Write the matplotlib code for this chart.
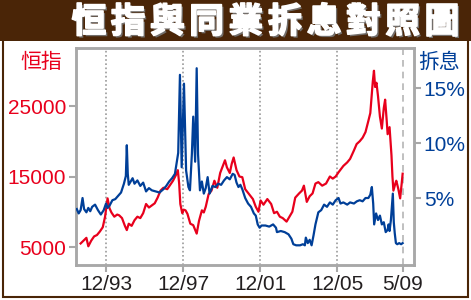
import matplotlib
matplotlib.use("Agg")
import matplotlib.pyplot as plt
import matplotlib.patheffects as pe
from matplotlib.patches import Rectangle

# data (decimal years)
hsi_t = [1992.6, 1992.75, 1992.9, 1993.0, 1993.15, 1993.3, 1993.45, 1993.6, 1993.75, 1993.87,
         1994.0, 1994.1, 1994.2, 1994.35, 1994.5, 1994.6, 1994.75, 1994.9, 1995.0, 1995.1,
         1995.25, 1995.4, 1995.55, 1995.7, 1995.85, 1996.0, 1996.15, 1996.3, 1996.45, 1996.6,
         1996.75, 1996.9, 1997.1, 1997.25, 1997.4, 1997.55, 1997.65, 1997.72, 1997.78, 1997.88,
         1997.95, 1998.05, 1998.15, 1998.3, 1998.45, 1998.63, 1998.75, 1998.9, 1999.0, 1999.1,
         1999.25, 1999.4, 1999.55, 1999.7, 1999.85, 2000.1, 2000.2, 2000.35, 2000.45, 2000.55,
         2000.7, 2000.85, 2001.0, 2001.15, 2001.35, 2001.55, 2001.7, 2001.84, 2001.95, 2002.1,
         2002.3, 2002.5, 2002.65, 2002.8, 2002.95, 2003.1, 2003.3, 2003.45, 2003.6, 2003.75,
         2003.95, 2004.1, 2004.2, 2004.35, 2004.5, 2004.65, 2004.8, 2004.95, 2005.15, 2005.35,
         2005.55, 2005.7, 2005.85, 2006.0, 2006.25, 2006.45, 2006.6, 2006.8, 2006.94, 2007.1,
         2007.25, 2007.4, 2007.55, 2007.65, 2007.78, 2007.84, 2007.9, 2007.97, 2008.05, 2008.15,
         2008.25, 2008.35, 2008.42, 2008.5, 2008.55, 2008.65, 2008.75, 2008.8, 2008.85, 2008.95,
         2009.0, 2009.1, 2009.2, 2009.28, 2009.33]
hsi = [5500, 5900, 6300, 5100, 5900, 6500, 6700, 7200, 7800, 9300,
       11900, 10500, 9900, 9300, 9600, 9500, 9100, 8000, 7400, 8300,
       8000, 8800, 9300, 9100, 9800, 11100, 10600, 10900, 11200, 12000,
       13000, 13400, 13200, 13800, 14400, 15200, 15900, 14000, 11100, 9800,
       10300, 10200, 9700, 8300, 8100, 6900, 8700, 10200, 9900, 10700,
       12500, 13000, 14400, 13400, 15500, 17300, 16300, 15500, 16800, 17700,
       15900, 15000, 14900, 13200, 12500, 11800, 10700, 10000, 11600, 11000,
       11800, 11100, 9800, 10000, 9300, 9100, 8600, 9300, 10000, 12000,
       12600, 13000, 13700, 11400, 12200, 12600, 14000, 14200, 13700, 14000,
       15000, 14700, 15000, 15600, 16500, 17000, 17500, 18700, 19600, 20000,
       20500, 21300, 22900, 24000, 28500, 30000, 27700, 28300, 26400, 23500,
       21800, 24700, 25900, 23000, 21000, 22000, 18000, 15000, 13000, 14000,
       14400, 13300, 11900, 14000, 15400]

hibor_t = [1992.4, 1992.5, 1992.6, 1992.7, 1992.78, 1992.9, 1993.0, 1993.1, 1993.2, 1993.35,
           1993.5, 1993.65, 1993.8, 1993.92, 1994.0, 1994.1, 1994.25, 1994.4, 1994.55, 1994.7,
           1994.85, 1994.95, 1995.0, 1995.05, 1995.1, 1995.2, 1995.3, 1995.4, 1995.55, 1995.7,
           1995.85, 1996.0, 1996.15, 1996.3, 1996.5, 1996.7, 1996.9, 1997.05, 1997.2, 1997.35,
           1997.5, 1997.67, 1997.76, 1997.85, 1997.97, 1998.08, 1998.2, 1998.28, 1998.38, 1998.45,
           1998.55, 1998.63, 1998.7, 1998.8, 1998.9, 1999.0, 1999.1, 1999.2, 1999.3, 1999.45,
           1999.6, 1999.75, 1999.9, 2000.05, 2000.2, 2000.35, 2000.5, 2000.6, 2000.7, 2000.8,
           2000.9, 2001.0, 2001.15, 2001.3, 2001.45, 2001.6, 2001.7, 2001.8, 2001.9, 2002.0,
           2002.2, 2002.4, 2002.6, 2002.75, 2002.8, 2003.0, 2003.2, 2003.4, 2003.55, 2003.65,
           2003.8, 2004.0, 2004.15, 2004.25, 2004.3, 2004.4, 2004.5, 2004.6, 2004.7, 2004.8,
           2004.95, 2005.1, 2005.25, 2005.4, 2005.55, 2005.7, 2005.85, 2006.0, 2006.1, 2006.25,
           2006.45, 2006.6, 2006.8, 2006.95, 2007.1, 2007.25, 2007.4, 2007.55, 2007.65, 2007.73,
           2007.8, 2007.85, 2007.95, 2008.05, 2008.15, 2008.25, 2008.35, 2008.45, 2008.55, 2008.6,
           2008.65, 2008.72, 2008.78, 2008.82, 2008.87, 2008.92, 2008.98, 2009.05, 2009.15, 2009.25,
           2009.33]
hibor = [4.0, 3.6, 3.9, 5.0, 4.0, 3.7, 4.1, 3.8, 4.2, 4.4,
         3.9, 3.5, 3.9, 4.5, 4.1, 4.3, 4.8, 4.9, 5.2, 5.5,
         6.3, 7.0, 9.8, 7.2, 6.2, 6.5, 6.8, 6.3, 6.6, 6.1,
         6.4, 5.6, 5.9, 5.7, 5.6, 5.5, 5.8, 6.1, 6.5, 6.8,
         7.2, 9.1, 16.2, 7.8, 15.4, 7.5, 6.0, 5.7, 9.0, 12.4,
         8.3, 16.8, 9.0, 5.7, 6.5, 5.4, 5.9, 6.9, 5.4, 6.1,
         6.0, 6.3, 6.2, 6.6, 6.9, 6.7, 7.2, 7.1, 6.4, 6.0,
         6.2, 5.8, 5.0, 4.5, 4.2, 3.6, 3.4, 2.6, 2.3, 2.5,
         2.5, 2.4, 2.6, 2.3, 1.9, 2.0, 1.9, 1.7, 1.3, 0.8,
         0.7, 0.7, 0.8, 0.7, 1.4, 0.9, 1.2, 0.7, 1.6, 2.6,
         3.7, 3.9, 4.4, 4.2, 4.6, 4.4, 4.8, 5.0, 4.5, 4.6,
         4.4, 4.6, 4.5, 4.7, 4.8, 4.7, 5.0, 5.0, 5.3, 6.0,
         4.5, 2.6, 3.6, 3.0, 3.4, 2.6, 2.8, 1.9, 2.1, 2.6,
         2.0, 3.0, 4.5, 5.4, 2.8, 1.8, 0.9, 0.8, 0.9, 0.8,
         0.9]

xtick_pos = [1993.92, 1997.92, 2001.92, 2005.92, 2009.33]
xtick_lab = ["12/93", "12/97", "12/01", "12/05", "5/09"]
left_ticks = [5000, 15000, 25000]
right_ticks = [5, 10, 15]
title = "恒指與同業拆息對照圖"

RED = "#e8001c"
BLUE = "#003f98"
BROWN = "#4a2507"
GRAY = "#a8a8a8"
NUM_FONT = ["Liberation Sans", "DejaVu Sans"]
CJK_FONT = ["Noto Sans CJK TC", "DejaVu Sans"]

fig = plt.figure(figsize=(4.71, 3.0), dpi=100)
fig.patch.set_facecolor("white")

# title band and frame
fig.patches.append(Rectangle((0, 1 - 41 / 300), 1, 41 / 300, transform=fig.transFigure,
                             facecolor=BROWN, edgecolor="none", zorder=0))
fig.patches.append(Rectangle((2.5 / 471, 3 / 300), 465 / 471, 258 / 300, transform=fig.transFigure,
                             facecolor="none", edgecolor=BROWN, lw=1.5, zorder=0))
# title drawn char by char for the wide letter spacing
shadow = [pe.withSimplePatchShadow(offset=(1.5, -1.5), shadow_rgbFace="#777777", alpha=0.9),
          pe.withStroke(linewidth=1.2, foreground="white")]
for i, ch in enumerate(title):
    fig.text((89 + i * 39.2) / 471, 1 - 22 / 300, ch, color="white", fontsize=25,
             fontweight="heavy", family=CJK_FONT, ha="center", va="center",
             path_effects=shadow)

ax = fig.add_axes([76 / 471, 35 / 300, 338 / 471, 217 / 300])
ax2 = ax.twinx()

ax.plot(hsi_t, hsi, color=RED, lw=1.6, zorder=3)
ax2.plot(hibor_t, hibor, color=BLUE, lw=1.6, zorder=4)

ax.set_xlim(1992.36, 2009.92)
ax.set_ylim(2447, 33227)
ax2.set_ylim(-1.09, 18.64)

for xp in xtick_pos[:-1]:
    ax.axvline(xp, color="#9a9a9a", lw=1.2, ls=(0, (1, 1.5)), zorder=1)
ax.axvline(xtick_pos[-1], color="#b5b5b5", lw=1.2, ls=(0, (4, 3)), zorder=1)

ax.set_xticks(xtick_pos)
ax.set_xticklabels(xtick_lab, fontsize=15, color="#231f20", family=NUM_FONT)
ax.set_yticks(left_ticks)
ax.set_yticklabels([str(v) for v in left_ticks], fontsize=15, color=RED, family=NUM_FONT)
ax2.set_yticks(right_ticks)
ax2.set_yticklabels([f"{v}%" for v in right_ticks], fontsize=15, color=BLUE, family=NUM_FONT)

ax.tick_params(axis="both", length=5, width=1.5, color=GRAY, pad=2)
ax2.tick_params(axis="y", length=5, width=1.5, color=GRAY, pad=2)

for a in (ax, ax2):
    for s in a.spines.values():
        s.set_color(GRAY)
        s.set_linewidth(1.8)

fig.text(41 / 471, 1 - 62 / 300, "恒指", color=RED, fontsize=15, family=CJK_FONT,
         ha="center", va="center")
fig.text(439 / 471, 1 - 62 / 300, "拆息", color=BLUE, fontsize=15, family=CJK_FONT,
         ha="center", va="center")

fig.savefig("out.png", dpi=100)
